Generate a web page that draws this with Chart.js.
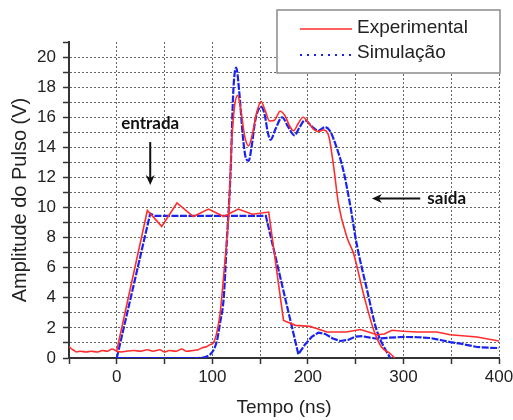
<!DOCTYPE html>
<html>
<head>
<meta charset="utf-8">
<script src="https://cdn.jsdelivr.net/npm/chart.js@4/dist/chart.umd.min.js"></script>
<style>
  html, body { margin: 0; padding: 0; background: #fff; }
  #wrap { width: 513px; height: 420px; position: relative; }
</style>
</head>
<body>
<div id="wrap"><canvas id="c" width="513" height="420"></canvas></div>
<script>
// ---- Data ----
const legendLabels = ['Experimental', 'Simulação'];
const xTitle = 'Tempo (ns)';
const yTitle = 'Amplitude do Pulso (V)';
const xTickLabels = [0, 100, 200, 300, 400];
const yTickLabels = [0, 2, 4, 6, 8, 10, 12, 14, 16, 18, 20];

// Experimental, input pulse (entrada)
const expInX = [0, 32, 47, 63, 80, 96, 112, 127, 142, 159, 174.5, 187, 202, 210, 220, 240, 255, 265, 272, 280, 288, 300, 314, 335, 349, 377, 400];
const expInY = [0.5, 9.8, 8.75, 10.3, 9.4, 9.9, 9.4, 9.9, 9.55, 9.7, 2.5, 2.17, 2.1, 1.95, 1.73, 1.73, 1.89, 1.7, 1.55, 1.6, 1.84, 1.78, 1.73, 1.73, 1.55, 1.4, 1.13];

// Experimental, output pulse (saída)
const expOutX = [-50, -46, -42, -38, -32, -27, -20, -15, -10, -5, 0, 5, 10, 18, 25, 32, 38, 45, 50, 55, 62, 68, 73, 80, 85, 90, 94, 98, 101, 104, 108, 113, 117, 120, 123, 126.5, 130, 134, 138, 142, 146, 151, 155, 160, 165, 171, 176, 181, 185, 190, 195, 201, 206, 211, 216, 222, 227, 232, 241, 248, 258, 269, 277, 286, 291];
const expOutY = [0.75, 0.55, 0.4, 0.45, 0.4, 0.45, 0.4, 0.5, 0.45, 0.6, 0.45, 0.4, 0.45, 0.5, 0.45, 0.55, 0.45, 0.55, 0.4, 0.5, 0.45, 0.6, 0.45, 0.5, 0.55, 0.7, 0.75, 0.9, 1.0, 1.5, 2.9, 6.3, 9.4, 14.0, 16.6, 17.45, 16.4, 14.7, 14.1, 14.9, 16.2, 17.05, 16.5, 15.75, 15.8, 16.4, 16.1, 15.4, 15.1, 15.6, 16.0, 15.6, 15.2, 15.05, 15.15, 14.7, 12.7, 10.25, 8.0, 6.9, 4.3, 1.84, 0.73, 0.3, 0];

// Simulation, input pulse
const simInX = [0, 35, 40, 156, 190, 197, 204, 211, 218, 226, 234, 242, 250, 257, 265, 272, 285, 300, 315, 328, 340, 349, 360, 377, 390, 400];
const simInY = [0, 9.6, 9.45, 9.45, 0.25, 0.9, 1.4, 1.69, 1.6, 1.3, 1.13, 1.2, 1.42, 1.45, 1.35, 1.29, 1.35, 1.4, 1.38, 1.33, 1.18, 1.06, 0.95, 0.73, 0.68, 0.66];

// Simulation, output pulse
const simOutX = [0, 85, 94, 101, 105, 108, 112, 115, 119, 122, 125, 128, 132, 135, 138, 141, 145, 151, 155, 158, 161, 166, 173, 179, 186, 191, 197, 204, 211, 215, 218, 223, 230, 237, 244, 251, 262, 272, 286];
const simOutY = [0, 0, 0.1, 0.5, 1.2, 2.3, 4.05, 7.6, 12.2, 17.8, 19.3, 17.8, 14.7, 13.3, 13.1, 14.0, 15.8, 16.7, 16.1, 15.0, 14.5, 15.2, 16.0, 15.4, 14.8, 15.3, 15.8, 15.4, 15.1, 15.25, 15.35, 15.1, 14.0, 12.5, 10.25, 7.6, 4.5, 1.84, 0];

// Annotations (data coordinates)
const annotTexts = ['entrada', 'saída'];

const RED = 'rgb(255,45,45)';
const BLUE = 'rgb(25,35,235)';
const FONT = "'Liberation Sans', Arial, sans-serif";

const pts = (xs, ys) => xs.map((x, i) => ({x: x, y: ys[i]}));

// Custom legend box + annotations
const overlayPlugin = {
  id: 'overlay',
  afterDraw(chart) {
    const ctx = chart.ctx;
    const xs = chart.scales.x, ys = chart.scales.y;
    ctx.save();
    // Legend box
    const bx = 277, by = 10, bw = 223, bh = 63;
    ctx.fillStyle = '#fff';
    ctx.fillRect(bx, by, bw, bh);
    ctx.strokeStyle = '#8a8a8a';
    ctx.lineWidth = 1.5;
    ctx.strokeRect(bx, by, bw, bh);
    // Experimental
    ctx.strokeStyle = RED; ctx.lineWidth = 1.5; ctx.setLineDash([]);
    ctx.beginPath(); ctx.moveTo(300, 29); ctx.lineTo(352, 29); ctx.stroke();
    // Simulação
    ctx.strokeStyle = BLUE; ctx.lineWidth = 2; ctx.setLineDash([2, 5]);
    ctx.beginPath(); ctx.moveTo(300, 55); ctx.lineTo(352, 55); ctx.stroke();
    ctx.setLineDash([]);
    ctx.fillStyle = '#222';
    ctx.font = '19px ' + FONT;
    ctx.textBaseline = 'middle';
    ctx.textAlign = 'left';
    ctx.fillText(legendLabels[0], 357, 28);
    ctx.fillText(legendLabels[1], 357, 53);

    // Annotations
    ctx.fillStyle = '#111';
    ctx.strokeStyle = '#111';
    ctx.font = "bold 17px Lato, 'Open Sans', sans-serif";
    ctx.textAlign = 'center';
    ctx.fillText(annotTexts[0], xs.getPixelForValue(35), ys.getPixelForValue(15.6));
    // down arrow
    let ax = xs.getPixelForValue(35), ay1 = ys.getPixelForValue(14.35), ay2 = ys.getPixelForValue(11.5);
    ctx.lineWidth = 2;
    ctx.beginPath(); ctx.moveTo(ax, ay1); ctx.lineTo(ax, ay2 - 6); ctx.stroke();
    ctx.beginPath(); ctx.moveTo(ax - 4.5, ay2 - 10); ctx.lineTo(ax, ay2); ctx.lineTo(ax + 4.5, ay2 - 10); ctx.lineTo(ax, ay2 - 7); ctx.closePath(); ctx.fill();

    ctx.textAlign = 'left';
    ctx.fillText(annotTexts[1], xs.getPixelForValue(325), ys.getPixelForValue(10.6));
    // left arrow
    let by1 = ys.getPixelForValue(10.6), bx1 = xs.getPixelForValue(317.6), bx2 = xs.getPixelForValue(267);
    ctx.beginPath(); ctx.moveTo(bx1, by1); ctx.lineTo(bx2 + 6, by1); ctx.stroke();
    ctx.beginPath(); ctx.moveTo(bx2 + 10, by1 - 4.5); ctx.lineTo(bx2, by1); ctx.lineTo(bx2 + 10, by1 + 4.5); ctx.lineTo(bx2 + 7, by1); ctx.closePath(); ctx.fill();
    ctx.restore();
  }
};

new Chart(document.getElementById('c'), {
  type: 'line',
  data: {
    datasets: [
      { label: legendLabels[0], data: pts(expInX, expInY), borderColor: RED, borderWidth: 1.6, tension: 0, pointRadius: 0 },
      { label: legendLabels[0], data: pts(expOutX, expOutY), borderColor: RED, borderWidth: 1.6, cubicInterpolationMode: 'monotone', pointRadius: 0 },
      { label: legendLabels[1], data: pts(simInX, simInY), borderColor: BLUE, borderWidth: 2.2, tension: 0, pointRadius: 0, borderDash: [7, 1.5] },
      { label: legendLabels[1], data: pts(simOutX, simOutY), borderColor: BLUE, borderWidth: 2.2, cubicInterpolationMode: 'monotone', pointRadius: 0, borderDash: [7, 1.5] }
    ]
  },
  options: {
    responsive: false,
    animation: false,
    devicePixelRatio: 1,
    layout: { padding: { top: 42, right: 14, left: 0, bottom: 0 } },
    plugins: { legend: { display: false }, tooltip: { enabled: false } },
    scales: {
      x: {
        type: 'linear', min: -50, max: 400,
        afterFit(s) { s.height = 62; s.paddingLeft = 0; s.paddingRight = 0; },
        afterBuildTicks(s) { const t = []; for (let v = -50; v <= 400; v += 50) t.push({value: v}); s.ticks = t; },
        ticks: {
          autoSkip: false, maxRotation: 0, padding: 3, color: '#222',
          font: { family: FONT, size: 17 },
          callback: (v) => xTickLabels.includes(v) ? String(v) : ''
        },
        grid: {
          color: (c) => (c.tick && c.tick.value === -50) ? 'rgba(0,0,0,0)' : '#666',
          lineWidth: 1, tickLength: 6, tickColor: '#333', tickWidth: 1.5
        },
        border: { display: true, color: '#333', width: 2, dash: [2, 2] },
        title: { display: true, text: xTitle, color: '#222', font: { family: FONT, size: 19 }, padding: { top: 0, bottom: 1 } }
      },
      y: {
        type: 'linear', min: 0, max: 21,
        afterFit(s) { s.width = 69; },
        afterBuildTicks(s) { const t = []; for (let v = 0; v <= 21; v += 1) t.push({value: v}); s.ticks = t; },
        ticks: {
          autoSkip: false, padding: 7, color: '#222',
          font: { family: FONT, size: 17 },
          callback: (v) => yTickLabels.includes(v) ? String(v) : ''
        },
        grid: {
          color: (c) => (c.tick && (c.tick.value === 0 || c.tick.value === 21)) ? 'rgba(0,0,0,0)' : '#666',
          lineWidth: 1,
          tickLength: 6, tickColor: '#333', tickWidth: 1.5
        },
        border: { display: true, color: '#333', width: 2, dash: [2, 2] },
        title: { display: true, text: yTitle, color: '#222', font: { family: FONT, size: 20 }, padding: { top: 8, bottom: 0 } }
      }
    }
  },
  plugins: [overlayPlugin]
});
</script>
</body>
</html>
